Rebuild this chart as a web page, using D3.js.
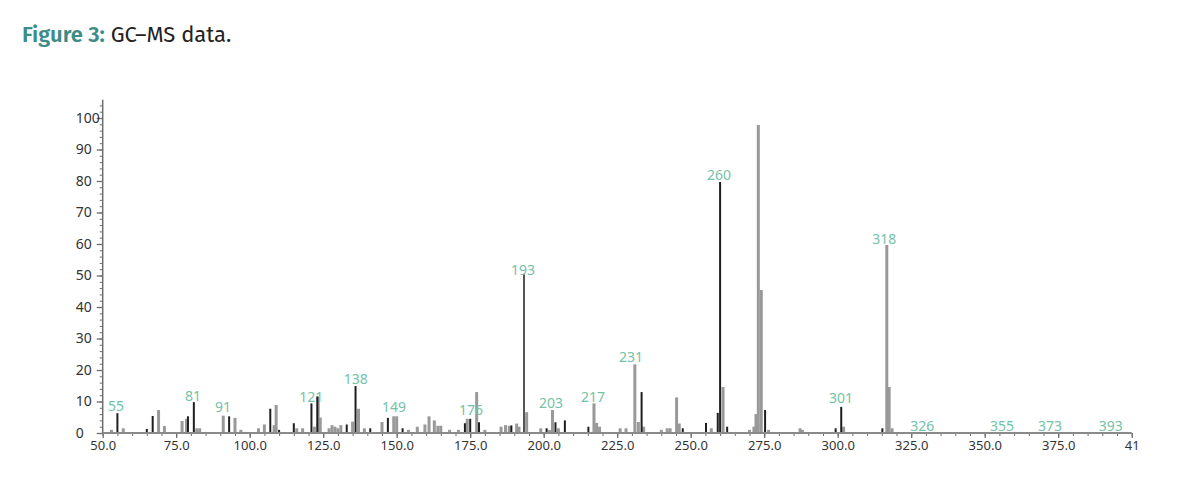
<!DOCTYPE html>
<html><head><meta charset="utf-8">
<script src="https://cdn.jsdelivr.net/npm/d3@7"></script>
<style>
html,body{margin:0;padding:0;background:#fff;}
svg{display:block;}
</style></head>
<body>
<svg id="c" width="1194" height="488"></svg>
<script>
// ---- data ----
const blackMz  = [55,65,67,79,81,93,107,110,115,121,123,133,136,141,147,152,173.2,175,178,189,193.3,201,204,207.2,215.2,233.3,247.3,255.2,259.2,260,262.4,275.3,299.3,301.2,315.2];
const blackInt = [6.3,1.3,5.4,5.3,9.8,5.3,7.7,1,3.1,9.4,11.6,2.7,14.9,1.5,4.8,1.5,3.1,4.5,3.4,2.4,50.4,1.5,3.4,4,2,13,1.5,3.2,6.4,79.7,2,7.3,1.5,8.3,1.5];
const greyMz  = [53,57,69,71,77,78.5,82,83,91,95,97,103,105,108.3,109,116,118,122,123.3,124,127,128,129,130,131,135,137,139,145,149,150,154,157,159.6,161,162.8,164,165,168,171,174,177.2,180,185.5,187,188.3,190.8,191.6,194.2,199,202,203,205,217.1,218,219,226,228,231,232.2,234,240,242,243,245.2,246.1,257,261,270,271.5,272.2,273,274,276.5,287.2,288,302,316.7,317.5,318.5];
const greyInt = [1,1.5,7.3,2.2,3.8,4.5,1.5,1.5,5.5,4.8,1,1.5,2.7,2.5,8.9,1.5,1.5,2,11.5,4.9,1.5,2.5,2,1.5,2.5,3.6,7.7,1.5,3.5,5.3,5.3,1,2,2.7,5.3,4,2.3,2.3,1,1,4.5,13,1,2,2.5,2.3,3,2,6.6,1.5,1,7.3,1.5,9.4,3.2,2,1.5,1.5,21.8,3.5,2,1,1.5,1.5,11.3,3,1.5,14.6,1,2,6,97.8,45.4,1,1.5,1,2,59.7,14.6,1.5];
const labelText  = ["55","81","91","121","138","149","176","193","203","217","231","260","301","318","326","355","373","393"];
const labelMz    = [54.5,80.7,90.9,120.9,136.1,149.1,175.3,193,202.5,216.8,229.7,259.6,301.1,315.8,328.8,355.9,372.2,392.9];
const labelLevel = [7.0,10.2,6.7,9.8,15.6,6.7,5.7,50.2,7.9,9.8,22.5,80.3,9.5,60,0.6,0.6,0.6,0.6];
const xMajorTicks = [50,75,100,125,150,175,200,225,250,275,300,325,350,375,400];
const xTickLabels = ["50.0","75.0","100.0","125.0","150.0","175.0","200.0","225.0","250.0","275.0","300.0","325.0","350.0","375.0","41"];
const yMajorTicks = [0,10,20,30,40,50,60,70,80,90,100];

// ---- layout ----
const svg = d3.select("#c");
const x = d3.scaleLinear().domain([50,400]).range([102.7,1131.7]);
const y = d3.scaleLinear().domain([0,100]).range([433,118]);
const axisColor = "#6e6e6e";
const teal = "#74c2a6";

// title
const t = svg.append("text").attr("x",22).attr("y",42)
  .style("font-family","'Fira Sans','Open Sans','Noto Sans',sans-serif").style("font-size","22px");
t.append("tspan").attr("fill","#3d8c88").style("font-weight","600").text("Figure 3:");
t.append("tspan").attr("fill","#222").text(" GC\u2013MS data.");

// y axis
const yAxisG = svg.append("g").attr("transform",`translate(${x(50)},0)`);
yAxisG.append("g").call(d3.axisLeft(y).tickValues(d3.range(0,106,2)).tickSize(3).tickFormat(""))
  .call(g=>g.select(".domain").remove())
  .call(g=>g.selectAll("line").attr("stroke",axisColor));
yAxisG.append("g").call(d3.axisLeft(y).tickValues(yMajorTicks).tickSize(6).tickPadding(1).tickFormat(d3.format("d")))
  .call(g=>g.select(".domain").remove())
  .call(g=>g.selectAll("line").attr("stroke",axisColor).attr("stroke-width",1.3))
  .call(g=>g.selectAll("text").attr("fill","#333").attr("text-anchor","start").attr("x",-27)
    .style("font-family","'Noto Sans',sans-serif").style("font-size","14px"));
yAxisG.append("line").attr("x1",0).attr("x2",0).attr("y1",y(0)).attr("y2",y(105.8))
  .attr("stroke",axisColor).attr("stroke-width",1.5);

// bars
svg.append("g").selectAll("line").data(greyMz.map((m,i)=>[m,greyInt[i]])).join("line")
  .attr("x1",d=>x(d[0])).attr("x2",d=>x(d[0]))
  .attr("y1",y(0)).attr("y2",d=>y(d[1]))
  .attr("stroke","#999").attr("stroke-width",3);
svg.append("g").selectAll("line").data(blackMz.map((m,i)=>[m,blackInt[i]])).join("line")
  .attr("x1",d=>x(d[0])).attr("x2",d=>x(d[0]))
  .attr("y1",y(0)).attr("y2",d=>y(d[1]))
  .attr("stroke",d=>d[1]>40&&d[0]<200?"#555":"#1e1e1e").attr("stroke-width",2);

// x axis
const xAxisG = svg.append("g").attr("transform",`translate(0,${y(0)})`);
xAxisG.append("g").call(d3.axisBottom(x).tickValues(d3.range(50,401,5)).tickSize(3).tickFormat(""))
  .call(g=>g.select(".domain").remove())
  .call(g=>g.selectAll("line").attr("stroke",axisColor));
xAxisG.append("g").call(d3.axisBottom(x).tickValues(xMajorTicks).tickSize(5).tickPadding(3)
    .tickFormat((d,i)=>xTickLabels[i]))
  .call(g=>g.select(".domain").remove())
  .call(g=>g.selectAll("line").attr("stroke",axisColor).attr("stroke-width",1.3))
  .call(g=>g.selectAll("text").attr("fill","#333").style("font-family","'Noto Sans',sans-serif").style("font-size","13px"));
xAxisG.select("g:last-child").selectAll(".tick").filter(d=>d===400).select("text")
  .attr("text-anchor","end").attr("x",1);
xAxisG.append("line").attr("x1",x(50)).attr("x2",x(400)).attr("y1",0).attr("y2",0)
  .attr("stroke","#8a8a8a").attr("stroke-width",2);

// peak labels
svg.append("g").selectAll("text").data(labelText.map((s,i)=>({s,m:labelMz[i],l:labelLevel[i]}))).join("text")
  .attr("x",d=>x(d.m)).attr("y",d=>y(d.l))
  .attr("text-anchor","middle").attr("fill",teal)
  .style("font-family","'Noto Sans',sans-serif").style("font-size","14px")
  .text(d=>d.s);
</script>
</body></html>
